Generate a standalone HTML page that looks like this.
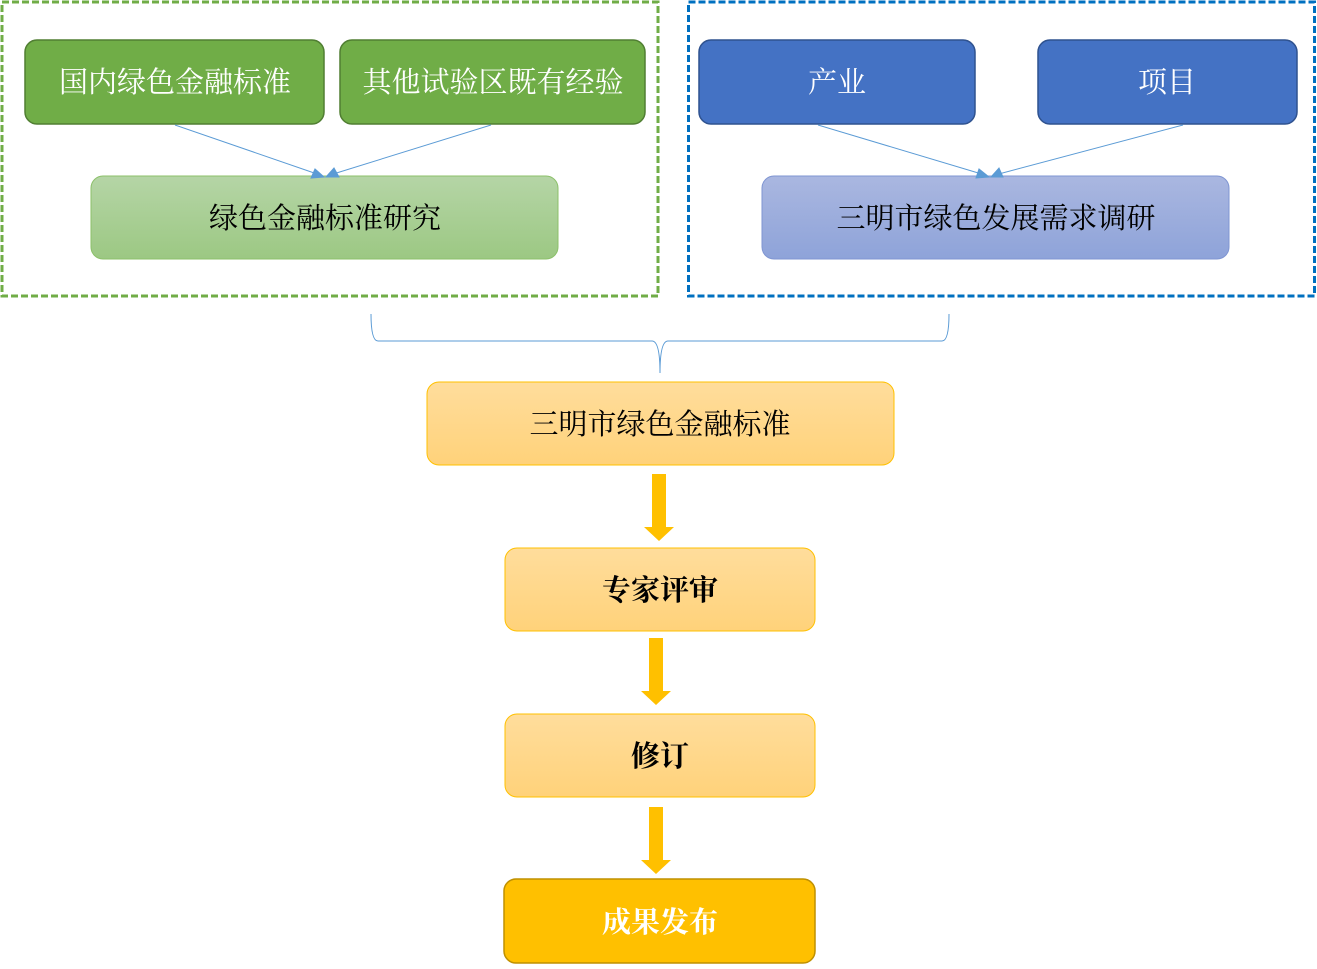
<!DOCTYPE html>
<html><head><meta charset="utf-8"><style>
html,body{margin:0;padding:0;background:#fff;}
text{font-family:"Liberation Serif","Noto Serif CJK SC",serif;}
</style></head><body>
<svg width="1317" height="964" viewBox="0 0 1317 964" xmlns="http://www.w3.org/2000/svg">
<defs>
<linearGradient id="lg" x1="0" y1="0" x2="0" y2="1"><stop offset="0" stop-color="#B5D5A6"/><stop offset="1" stop-color="#9CC883"/></linearGradient>
<linearGradient id="bg" x1="0" y1="0" x2="0" y2="1"><stop offset="0" stop-color="#AAB7E0"/><stop offset="1" stop-color="#8EA3D9"/></linearGradient>
<linearGradient id="og" x1="0" y1="0" x2="0" y2="1"><stop offset="0" stop-color="#FFDD9C"/><stop offset="1" stop-color="#FFD27A"/></linearGradient>
</defs>
<rect x="2" y="2" width="656" height="294" fill="none" stroke="#70AD47" stroke-width="3" stroke-dasharray="7,3"/>
<rect x="688.5" y="2" width="626" height="294" fill="none" stroke="#0070C0" stroke-width="3" stroke-dasharray="7,3"/>
<rect x="25" y="40" width="299" height="84" rx="12" fill="#70AD47" stroke="#507E32" stroke-width="1.5"/>
<rect x="340" y="40" width="305" height="84" rx="12" fill="#70AD47" stroke="#507E32" stroke-width="1.5"/>
<rect x="91" y="176" width="467" height="83" rx="12" fill="url(#lg)" stroke="#8CC06A" stroke-width="1"/>
<rect x="699" y="40" width="276" height="84" rx="12" fill="#4472C4" stroke="#2F528F" stroke-width="1.5"/>
<rect x="1038" y="40" width="259" height="84" rx="12" fill="#4472C4" stroke="#2F528F" stroke-width="1.5"/>
<rect x="762" y="176" width="467" height="83" rx="12" fill="url(#bg)" stroke="#7F95D2" stroke-width="1"/>
<g stroke="#5B9BD5" stroke-width="1" fill="#5B9BD5">
<line x1="175" y1="125" x2="320" y2="175"/><polygon points="324,177 311,178 315,169"/>
<line x1="491" y1="125" x2="330" y2="175"/><polygon points="326,177 334,168 339,177"/>
<line x1="818" y1="125" x2="985" y2="175"/><polygon points="989,177 976,178 979,169"/>
<line x1="1183" y1="125" x2="995" y2="175"/><polygon points="991,177 999,168 1003,177"/>
</g>
<path d="M371,314 Q371,341 378,341 L652,341 Q660,341 660,373 Q660,341 668,341 L942,341 Q949,341 949,314" fill="none" stroke="#5B9BD5" stroke-width="1"/>
<rect x="427" y="382" width="467" height="83" rx="12" fill="url(#og)" stroke="#FFC000" stroke-width="1"/>
<rect x="505" y="548" width="310" height="83" rx="12" fill="url(#og)" stroke="#FFC000" stroke-width="1"/>
<rect x="505" y="714" width="310" height="83" rx="12" fill="url(#og)" stroke="#FFC000" stroke-width="1"/>
<rect x="504" y="879" width="311" height="84" rx="12" fill="#FFC000" stroke="#BF9000" stroke-width="1.5"/>
<g fill="#FFC000">
<polygon points="652,474 666,474 666,527 674,527 659,541 644,527 652,527"/>
<polygon points="649,638 663,638 663,691 671,691 656,705 641,691 649,691"/>
<polygon points="649,807 663,807 663,860 671,860 656,874 641,860 649,860"/>
</g>
<g font-size="29" text-anchor="middle">
<text x="175" y="92" fill="#fff">国内绿色金融标准</text>
<text x="493" y="92" fill="#fff">其他试验区既有经验</text>
<text x="325" y="228" fill="#000">绿色金融标准研究</text>
<text x="837" y="92" fill="#fff">产业</text>
<text x="1167" y="92" fill="#fff">项目</text>
<text x="996" y="228" fill="#000">三明市绿色发展需求调研</text>
<text x="660" y="434" fill="#000">三明市绿色金融标准</text>
<text x="660" y="600" fill="#000" font-weight="bold">专家评审</text>
<text x="660" y="766" fill="#000" font-weight="bold">修订</text>
<text x="660" y="932" fill="#fff" font-weight="bold">成果发布</text>
</g>
</svg>
</body></html>
